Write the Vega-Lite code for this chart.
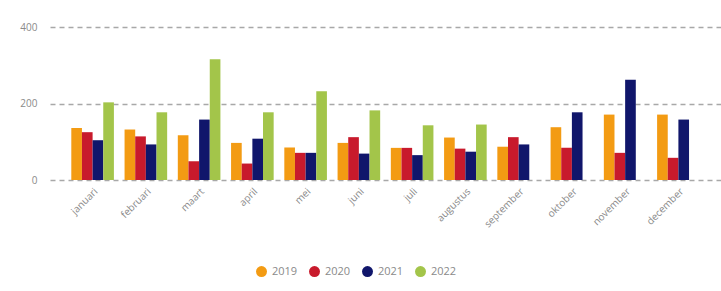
{
  "$schema": "https://vega.github.io/schema/vega-lite/v6.json",
  "width": 671,
  "height": 153,
  "autosize": "none",
  "padding": {"left": 50, "top": 27, "right": 0, "bottom": 111},
  "background": "white",
  "config": {
    "font": "Open Sans",
    "view": {"stroke": null},
    "axis": {"labelColor": "#8a8a8a", "labelFont": "Open Sans", "labelFontSize": 10}
  },
  "data": {
    "values": [
      {"maand": "januari", "jaar": "2019", "waarde": 136},
      {"maand": "januari", "jaar": "2020", "waarde": 125},
      {"maand": "januari", "jaar": "2021", "waarde": 104},
      {"maand": "januari", "jaar": "2022", "waarde": 203},
      {"maand": "februari", "jaar": "2019", "waarde": 132},
      {"maand": "februari", "jaar": "2020", "waarde": 114},
      {"maand": "februari", "jaar": "2021", "waarde": 93},
      {"maand": "februari", "jaar": "2022", "waarde": 177},
      {"maand": "maart", "jaar": "2019", "waarde": 117},
      {"maand": "maart", "jaar": "2020", "waarde": 49},
      {"maand": "maart", "jaar": "2021", "waarde": 158},
      {"maand": "maart", "jaar": "2022", "waarde": 316},
      {"maand": "april", "jaar": "2019", "waarde": 97},
      {"maand": "april", "jaar": "2020", "waarde": 43},
      {"maand": "april", "jaar": "2021", "waarde": 108},
      {"maand": "april", "jaar": "2022", "waarde": 177},
      {"maand": "mei", "jaar": "2019", "waarde": 85},
      {"maand": "mei", "jaar": "2020", "waarde": 71},
      {"maand": "mei", "jaar": "2021", "waarde": 71},
      {"maand": "mei", "jaar": "2022", "waarde": 232},
      {"maand": "juni", "jaar": "2019", "waarde": 97},
      {"maand": "juni", "jaar": "2020", "waarde": 112},
      {"maand": "juni", "jaar": "2021", "waarde": 69},
      {"maand": "juni", "jaar": "2022", "waarde": 182},
      {"maand": "juli", "jaar": "2019", "waarde": 84},
      {"maand": "juli", "jaar": "2020", "waarde": 84},
      {"maand": "juli", "jaar": "2021", "waarde": 65},
      {"maand": "juli", "jaar": "2022", "waarde": 143},
      {"maand": "augustus", "jaar": "2019", "waarde": 111},
      {"maand": "augustus", "jaar": "2020", "waarde": 82},
      {"maand": "augustus", "jaar": "2021", "waarde": 74},
      {"maand": "augustus", "jaar": "2022", "waarde": 145},
      {"maand": "september", "jaar": "2019", "waarde": 87},
      {"maand": "september", "jaar": "2020", "waarde": 112},
      {"maand": "september", "jaar": "2021", "waarde": 93},
      {"maand": "oktober", "jaar": "2019", "waarde": 138},
      {"maand": "oktober", "jaar": "2020", "waarde": 84},
      {"maand": "oktober", "jaar": "2021", "waarde": 177},
      {"maand": "november", "jaar": "2019", "waarde": 171},
      {"maand": "november", "jaar": "2020", "waarde": 71},
      {"maand": "november", "jaar": "2021", "waarde": 262},
      {"maand": "december", "jaar": "2019", "waarde": 171},
      {"maand": "december", "jaar": "2020", "waarde": 58},
      {"maand": "december", "jaar": "2021", "waarde": 158}
    ]
  },
  "mark": {"type": "bar"},
  "encoding": {
    "x": {
      "field": "maand",
      "type": "nominal",
      "sort": ["januari","februari","maart","april","mei","juni","juli","augustus","september","oktober","november","december"],
      "scale": {"paddingInner": 0.2, "paddingOuter": 0.4},
      "axis": {"title": null, "labelAngle": -45, "ticks": false, "domain": false, "labelPadding": 6, "grid": false}
    },
    "xOffset": {"field": "jaar", "type": "nominal", "scale": {"domain": ["2019","2020","2021","2022"]}},
    "y": {
      "field": "waarde",
      "type": "quantitative",
      "scale": {"domain": [0, 400]},
      "axis": {
        "title": null,
        "values": [0, 200, 400],
        "domain": false,
        "ticks": false,
        "labelPadding": 13,
        "gridColor": "#a8a8a8",
        "gridDash": [5, 4],
        "gridWidth": 1.5
      }
    },
    "color": {
      "field": "jaar",
      "type": "nominal",
      "scale": {"domain": ["2019","2020","2021","2022"], "range": ["#f39b13", "#c81a2c", "#10166b", "#a3c54a"]},
      "legend": {
        "title": null,
        "orient": "none",
        "legendX": 205,
        "legendY": 238,
        "direction": "horizontal",
        "symbolType": "circle",
        "symbolSize": 120,
        "labelColor": "#8a8a8a",
        "labelFontSize": 11,
        "columnPadding": 10
      }
    }
  }
}
